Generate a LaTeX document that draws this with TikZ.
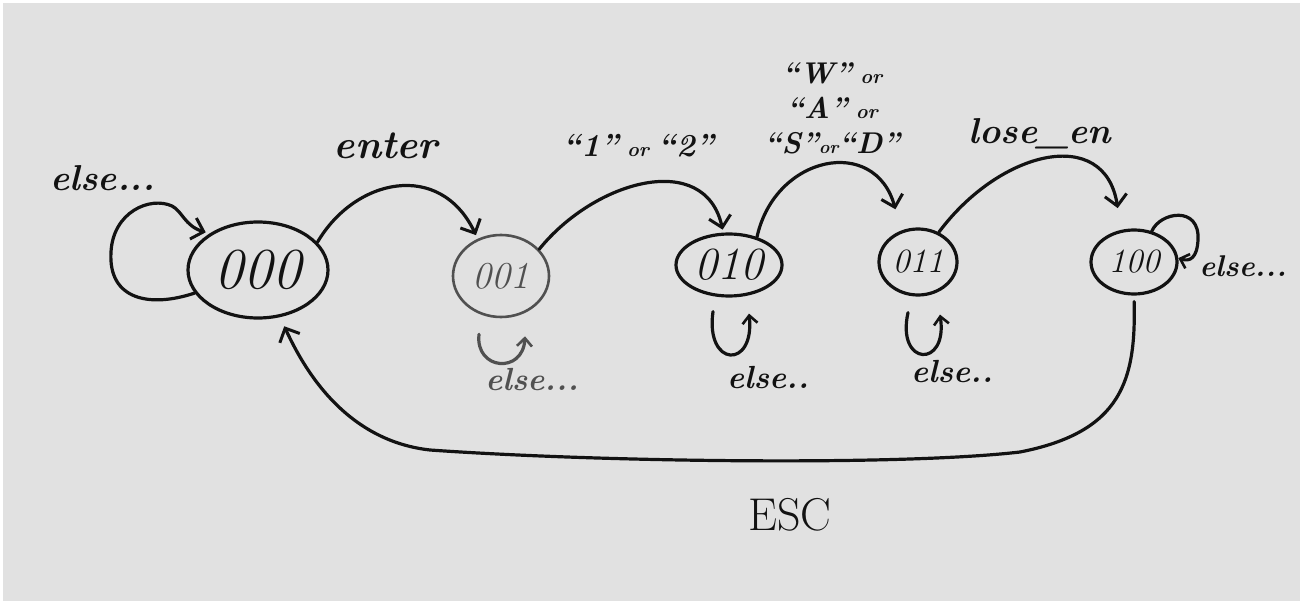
\documentclass[tikz,border=0pt]{standalone}
\usetikzlibrary{arrows.meta,shapes.geometric,calc}
\definecolor{paper}{RGB}{225,225,225}
\definecolor{ink}{RGB}{18,18,18}
\definecolor{pencil}{RGB}{80,80,80}
\begin{document}
\begin{tikzpicture}[x=1pt,y=-1pt,
  hand/.style={line width=3.2pt, line cap=round, line join=round, draw=ink},
  barb/.style={-{Straight Barb[length=11pt,width=22pt,line width=3pt]}},
  smallbarb/.style={-{Straight Barb[length=8pt,width=15pt,line width=2.6pt]}},
  state/.style={ellipse, hand, inner sep=0pt, text=ink},
  lbl/.style={text=ink, inner sep=1pt},
  hw/.style={font=\bfseries\itshape\fontsize{#1}{#1}\selectfont},
  digits/.style={font=\itshape\fontsize{#1}{#1}\selectfont}]

% paper
\fill[white] (0,0) rectangle (1303,604);
\fill[paper] (3,3) rectangle (1300,601);

% states
\node[state, minimum width=140pt, minimum height=96pt, digits=58] (s000) at (258,270) {000};
\node[state, draw=pencil, text=pencil, line width=2.6pt, minimum width=96pt, minimum height=82pt, digits=38] (s001) at (501,276) {001};
\node[state, minimum width=106pt, minimum height=62pt, digits=46] (s010) at (729,265) {010};
\node[state, minimum width=78pt, minimum height=66pt, digits=34] (s011) at (918,262) {011};
\node[state, minimum width=86pt, minimum height=64pt, digits=34] (s100) at (1134,262) {100};

% transitions between states
\draw[hand, barb, shorten >=4pt] (s000.25) .. controls (355,178) and (440,160) .. (s001.122);
\draw[hand, barb, shorten >=3pt] (s001.35) .. controls (595,180) and (705,150) .. (s010.100);
\draw[hand, barb, shorten >=22pt] (s010.45) .. controls (775,155) and (875,135) .. (s011.118);
\draw[hand, barb, shorten >=22pt] (s011.55) .. controls (1000,150) and (1105,125) .. (s100.112);

% ESC back to the start state
\draw[hand, barb, shorten <=6pt, shorten >=10pt] (s100.south)
  .. controls (1136,380) and (1122,432) .. (1020,452)
  .. controls (900,466) and (600,462) .. (430,450)
  .. controls (340,440) and (300,360) .. (s000.-65);

% self loops
\draw[hand, barb, shorten >=4pt] (s000.200) .. controls (150,308) and (108,300) .. (111,252)
  .. controls (113,212) and (150,196) .. (172,206)
  .. controls (182,211) and (185,226) .. (s000.143);
\draw[hand, draw=pencil, smallbarb] ($(s001.south)+(-22,16)$)
  .. controls ($(s001.south)+(-26,52)$) and ($(s001.south)+(22,56)$) .. ($(s001.south)+(24,18)$);
\draw[hand, smallbarb] ($(s010.south)+(-16,14)$)
  .. controls ($(s010.south)+(-24,70)$) and ($(s010.south)+(26,72)$) .. ($(s010.south)+(20,16)$);
\draw[hand, smallbarb] ($(s011.south)+(-10,16)$)
  .. controls ($(s011.south)+(-22,70)$) and ($(s011.south)+(30,72)$) .. ($(s011.south)+(22,18)$);
\draw[hand, smallbarb] (s100.60) .. controls (1160,212) and (1200,205) .. (1198,240)
  .. controls (1197,258) and (1190,262) .. (s100.5);

% labels
\node[lbl, hw=36] (lElse0) at (103,178) {else...};
\node[lbl, hw=40] (lEnter) at (386,146) {enter};
\node[lbl, hw=32] (lOneTwo) at (638,146) {``1''{\fontsize{20}{20}\selectfont\ or }``2''};
\node[lbl, hw=30, align=center] (lWasd) at (832,108) {%
  ``W''{\fontsize{20}{20}\selectfont\ or}\\[5pt]
  ``A''{\fontsize{20}{20}\selectfont\ or}\\[5pt]
  ``S''{\fontsize{18}{18}\selectfont or}``D''};
\node[lbl, hw=36] (lLose) at (1040,134) {lose\_en};
\node[lbl, text=pencil, hw=32] (lElse1) at (532,380) {else...};
\node[lbl, hw=32] (lElse2) at (768,378) {else..};
\node[lbl, hw=32] (lElse3) at (952,372) {else..};
\node[lbl, hw=30] (lElse4) at (1243,266) {else...};
\node[lbl, font=\fontsize{46}{46}\selectfont] (lEsc) at (790,515) {ESC};
\end{tikzpicture}
\end{document}
